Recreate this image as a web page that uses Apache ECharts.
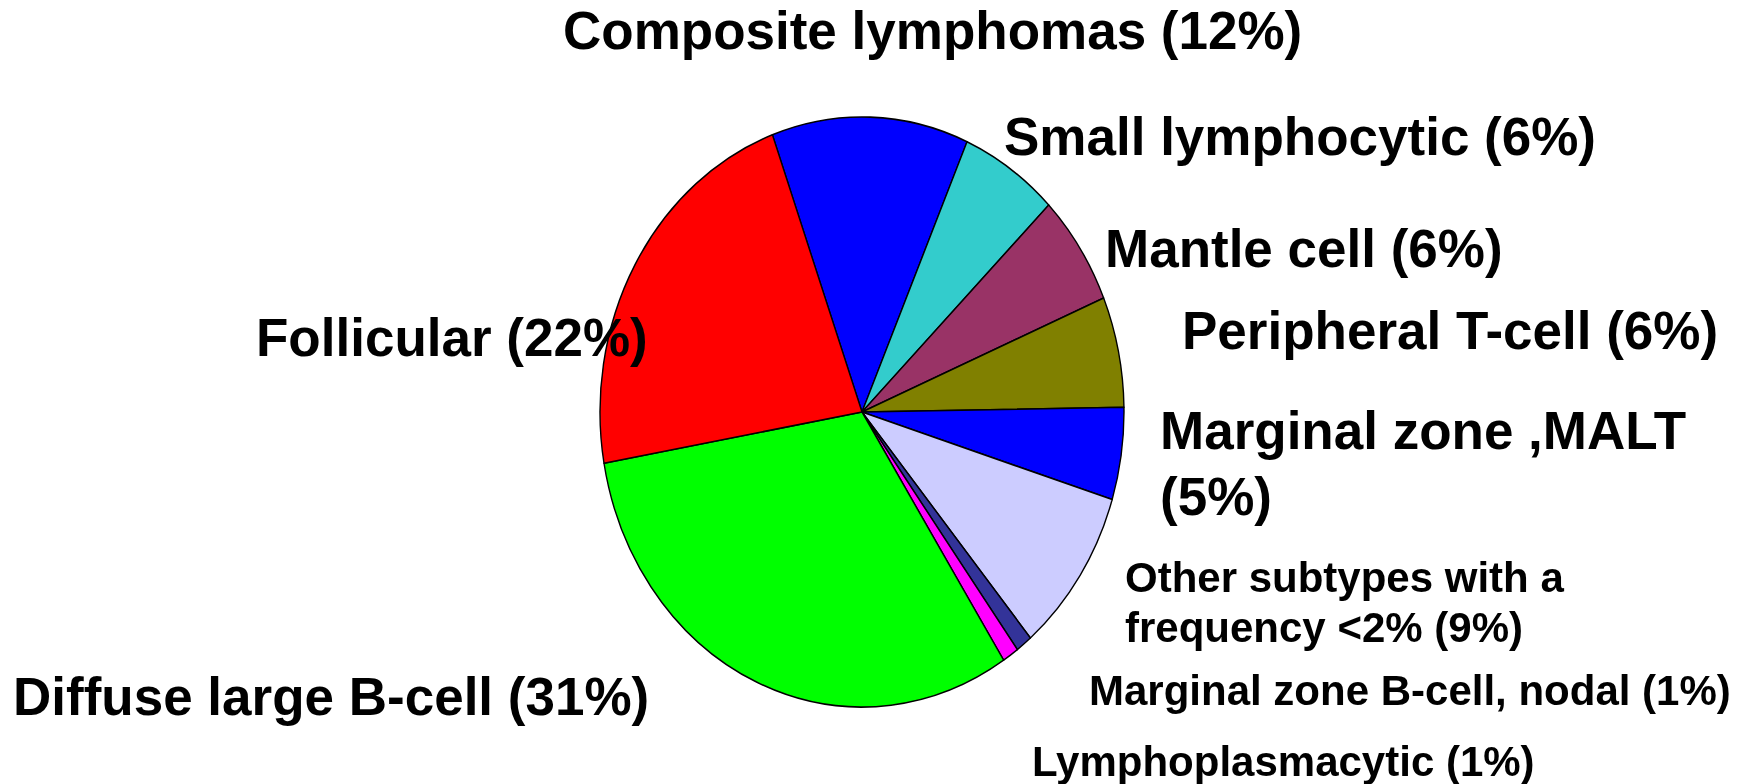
<!DOCTYPE html>
<html>
<head>
<meta charset="utf-8">
<script src="https://cdn.jsdelivr.net/npm/echarts@6/dist/echarts.min.js"></script>
<style>
  html, body { margin: 0; padding: 0; background: #fff; overflow: hidden; }
  #pieChart {
    position: absolute; left: 0; top: 0; width: 1755px; height: 784px;
    transform-origin: 0 0; transform: scaleY(1.126); /* the pie is drawn as an ellipse */
  }
  #labelChart { position: absolute; left: 0; top: 0; width: 1755px; height: 784px; }
</style>
</head>
<body>
<div id="pieChart"></div>
<div id="labelChart"></div>
<script>
// slices clockwise, starting with Composite lymphomas at the top
const subtypes = [
  'Composite lymphomas',
  'Small lymphocytic',
  'Mantle cell',
  'Peripheral T-cell',
  'Marginal zone ,MALT',
  'Other subtypes with a frequency <2%',
  'Marginal zone B-cell, nodal',
  'Lymphoplasmacytic',
  'Diffuse large B-cell',
  'Follicular'
]
const percents = [12, 6, 6, 6, 5, 9, 1, 1, 31, 22]
const sliceColors = ['#0000ff', '#33cccc', '#993366', '#808000', '#0000ff',
  '#ccccff', '#333399', '#ff00ff', '#00ff00', '#ff0000']
// label texts as set in the figure (with their line breaks)
const labelTexts = [
  'Composite lymphomas (12%)',
  'Small lymphocytic (6%)',
  'Mantle cell (6%)',
  'Peripheral T-cell (6%)',
  'Marginal zone ,MALT\n(5%)',
  'Other subtypes with a\nfrequency <2% (9%)',
  'Marginal zone B-cell, nodal (1%)',
  'Lymphoplasmacytic (1%)',
  'Diffuse large B-cell (31%)',
  'Follicular (22%)'
]

const stretch = 1.126
const pieChart = echarts.init(document.getElementById('pieChart'), null, { renderer: 'svg' })
pieChart.setOption({
  animation: false,
  series: [
    {
      type: 'pie',
      center: [862, 412 / stretch],
      radius: [0, 262],
      startAngle: 110,
      clockwise: true,
      label: { show: false },
      labelLine: { show: false },
      emphasis: { disabled: true },
      itemStyle: { borderColor: '#000', borderWidth: 1.4 },
      data: subtypes.map((name, i) => ({
        name: name,
        value: percents[i],
        itemStyle: { color: sliceColors[i] }
      }))
    }
  ]
})

// label placement: left x, middle y of first line, font size, line height
const labelPos = [
  [563, 34, 53, 60],
  [1004, 140, 53, 60],
  [1105, 252, 53, 60],
  [1182, 334, 53, 60],
  [1160, 434, 53, 66],
  [1125, 580, 42, 50],
  [1089, 693, 42, 50],
  [1032, 764, 42, 50],
  [13, 700, 53, 60],
  [256, 341, 53, 60]
]
const labelChart = echarts.init(document.getElementById('labelChart'))
labelChart.setOption({
  animation: false,
  graphic: labelTexts.map((txt, i) => ({
    type: 'text',
    left: labelPos[i][0],
    top: labelPos[i][1] - labelPos[i][3] / 2,
    style: {
      text: txt,
      fill: '#000',
      font: 'bold ' + labelPos[i][2] + 'px "Liberation Sans", Arial, sans-serif',
      lineHeight: labelPos[i][3]
    }
  }))
})
</script>
</body>
</html>
